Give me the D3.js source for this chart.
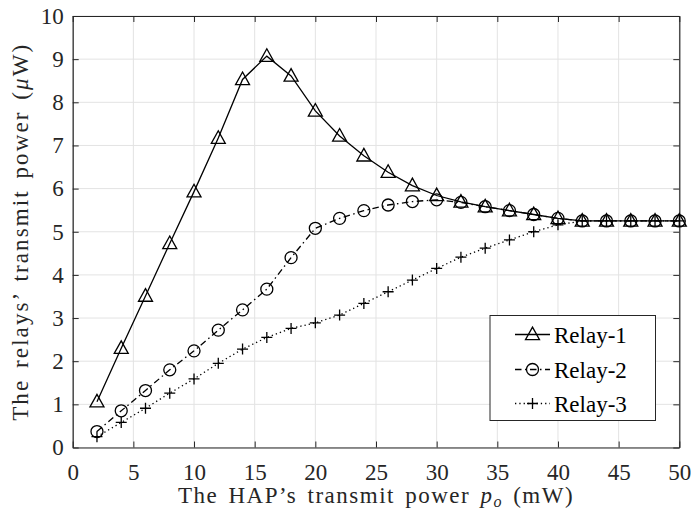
<!DOCTYPE html>
<html>
<head>
<meta charset="utf-8">
<script src="https://cdn.jsdelivr.net/npm/d3@7"></script>
<style>
  body { margin: 0; background: #fff; }
</style>
</head>
<body>
<div id="chart"></div>
<script>
const width = 693;
const height = 515;
const margin = { top: 16, right: 13.7, bottom: 67.5, left: 72.7 };
const serifFont = "'Liberation Serif'";

// HAP transmit power (mW)
const hapPower = [2, 4, 6, 8, 10, 12, 14, 16, 18, 20, 22, 24, 26, 28, 30, 32, 34, 36, 38, 40, 42, 44, 46, 48, 50];

const relay1 = [1.06, 2.30, 3.51, 4.73, 5.93, 7.17, 8.53, 9.07, 8.61, 7.80, 7.22, 6.76, 6.38, 6.07, 5.84, 5.69, 5.58, 5.49, 5.40, 5.31, 5.25, 5.25, 5.25, 5.25, 5.25];
const relay2 = [0.37, 0.85, 1.32, 1.80, 2.24, 2.72, 3.19, 3.67, 4.40, 5.08, 5.31, 5.49, 5.62, 5.70, 5.74, 5.68, 5.58, 5.49, 5.40, 5.31, 5.25, 5.25, 5.25, 5.25, 5.25];
const relay3 = [0.25, 0.58, 0.91, 1.26, 1.59, 1.95, 2.28, 2.55, 2.76, 2.89, 3.07, 3.34, 3.61, 3.88, 4.15, 4.41, 4.62, 4.81, 5.00, 5.16, 5.25, 5.25, 5.25, 5.25, 5.25];

const seriesNames = ["Relay-1", "Relay-2", "Relay-3"];
const xTicks = [0, 5, 10, 15, 20, 25, 30, 35, 40, 45, 50];
const yTicks = [0, 1, 2, 3, 4, 5, 6, 7, 8, 9, 10];

const series = [
  { name: seriesNames[0], values: relay1, dash: null, marker: "triangle" },
  { name: seriesNames[1], values: relay2, dash: "6.5,3.5,1.5,3.5", marker: "circle" },
  { name: seriesNames[2], values: relay3, dash: "1.3,3", marker: "plus" }
];

const svg = d3.select("#chart").append("svg")
  .attr("width", width)
  .attr("height", height);

const x = d3.scaleLinear().domain([0, 50]).range([margin.left, width - margin.right]);
const y = d3.scaleLinear().domain([0, 10]).range([height - margin.bottom, margin.top]);

// grid
svg.append("g").selectAll("line").data(xTicks).enter().append("line")
  .attr("x1", d => x(d)).attr("x2", d => x(d))
  .attr("y1", margin.top).attr("y2", height - margin.bottom)
  .attr("stroke", "#e3e3e3").attr("stroke-width", 1);
svg.append("g").selectAll("line").data(yTicks).enter().append("line")
  .attr("y1", d => y(d)).attr("y2", d => y(d))
  .attr("x1", margin.left).attr("x2", width - margin.right)
  .attr("stroke", "#e3e3e3").attr("stroke-width", 1);

// axes (ticks pointing inward, box around plot)
const tickLen = 6;
const axisColor = "#262626";

const xAxis = svg.append("g")
  .attr("transform", `translate(0, ${height - margin.bottom})`)
  .call(d3.axisBottom(x).tickValues(xTicks).tickSizeInner(-tickLen).tickSizeOuter(0).tickPadding(14));
const xAxisTop = svg.append("g")
  .attr("transform", `translate(0, ${margin.top})`)
  .call(d3.axisTop(x).tickValues(xTicks).tickSizeInner(-tickLen).tickSizeOuter(0).tickFormat(""));
const yAxis = svg.append("g")
  .attr("transform", `translate(${margin.left}, 0)`)
  .call(d3.axisLeft(y).tickValues(yTicks).tickSizeInner(-tickLen).tickSizeOuter(0).tickPadding(9));
const yAxisRight = svg.append("g")
  .attr("transform", `translate(${width - margin.right}, 0)`)
  .call(d3.axisRight(y).tickValues(yTicks).tickSizeInner(-tickLen).tickSizeOuter(0).tickFormat(""));

[xAxis, xAxisTop, yAxis, yAxisRight].forEach(g => {
  g.attr("font-family", null).attr("font-size", null);
  g.select(".domain").attr("stroke", axisColor).attr("stroke-width", 1.2);
  g.selectAll(".tick line").attr("stroke", axisColor).attr("stroke-width", 1);
  g.selectAll(".tick text")
    .style("font-family", serifFont)
    .style("font-size", "23px")
    .attr("fill", axisColor);
});
xAxis.selectAll(".tick text").attr("dy", null).attr("y", 32);

// marker drawing
function drawMarker(g, type, cx, cy) {
  if (type === "triangle") {
    const w = 7, top = 7.4, bot = 5.2;
    g.append("path")
      .attr("d", `M${cx},${cy - top}L${cx + w},${cy + bot}L${cx - w},${cy + bot}Z`)
      .attr("fill", "none").attr("stroke", "#000").attr("stroke-width", 1.3);
  } else if (type === "circle") {
    g.append("circle").attr("cx", cx).attr("cy", cy).attr("r", 6)
      .attr("fill", "none").attr("stroke", "#000").attr("stroke-width", 1.3);
  } else {
    const s = 5.5;
    g.append("path")
      .attr("d", `M${cx - s},${cy}H${cx + s}M${cx},${cy - s}V${cy + s}`)
      .attr("fill", "none").attr("stroke", "#000").attr("stroke-width", 1.3);
  }
}

const line = d3.line().x((d, i) => x(hapPower[i])).y(d => y(d));

series.forEach(s => {
  const g = svg.append("g");
  g.append("path")
    .attr("d", line(s.values))
    .attr("fill", "none")
    .attr("stroke", "#000")
    .attr("stroke-width", 1.3)
    .attr("stroke-dasharray", s.dash);
  s.values.forEach((v, i) => drawMarker(g, s.marker, x(hapPower[i]), y(v)));
});

// legend
const legend = svg.append("g");
legend.append("rect")
  .attr("x", 490).attr("y", 315.5).attr("width", 165.5).attr("height", 105)
  .attr("fill", "#fff").attr("stroke", axisColor).attr("stroke-width", 1);
const legendRows = [334.5, 369.5, 403.5];
series.forEach((s, i) => {
  const ly = legendRows[i];
  legend.append("line")
    .attr("x1", 515).attr("x2", 550).attr("y1", ly).attr("y2", ly)
    .attr("stroke", "#000").attr("stroke-width", 1.3)
    .attr("stroke-dasharray", s.dash);
  drawMarker(legend, s.marker, 532.5, ly);
  legend.append("text")
    .attr("x", 554).attr("y", ly + 8.5)
    .style("font-family", serifFont)
    .style("font-size", "23px")
    .attr("fill", "#000")
    .text(s.name);
});

// axis labels
const xLabel = svg.append("text")
  .attr("x", (margin.left + width - margin.right) / 2)
  .attr("y", 503)
  .attr("text-anchor", "middle")
  .style("font-family", serifFont)
  .style("font-size", "23px")
  .style("letter-spacing", "1.5px")
  .style("word-spacing", "3px")
  .attr("fill", axisColor);
xLabel.append("tspan").text("The HAP\u2019s transmit power ");
xLabel.append("tspan").attr("font-style", "italic").text("p");
xLabel.append("tspan").attr("font-style", "italic").style("font-size", "16px").attr("dy", 4).text("o");
xLabel.append("tspan").attr("dy", -4).text(" (mW)");

const yLabel = svg.append("text")
  .attr("transform", `translate(28, ${(margin.top + height - margin.bottom) / 2}) rotate(-90)`)
  .attr("text-anchor", "middle")
  .style("font-family", serifFont)
  .style("font-size", "23px")
  .style("letter-spacing", "2.1px")
  .style("word-spacing", "3px")
  .attr("fill", axisColor);
yLabel.append("tspan").text("The relays\u2019 transmit power (");
yLabel.append("tspan").attr("font-style", "italic").text("\u03bc");
yLabel.append("tspan").text("W)");
</script>
</body>
</html>
